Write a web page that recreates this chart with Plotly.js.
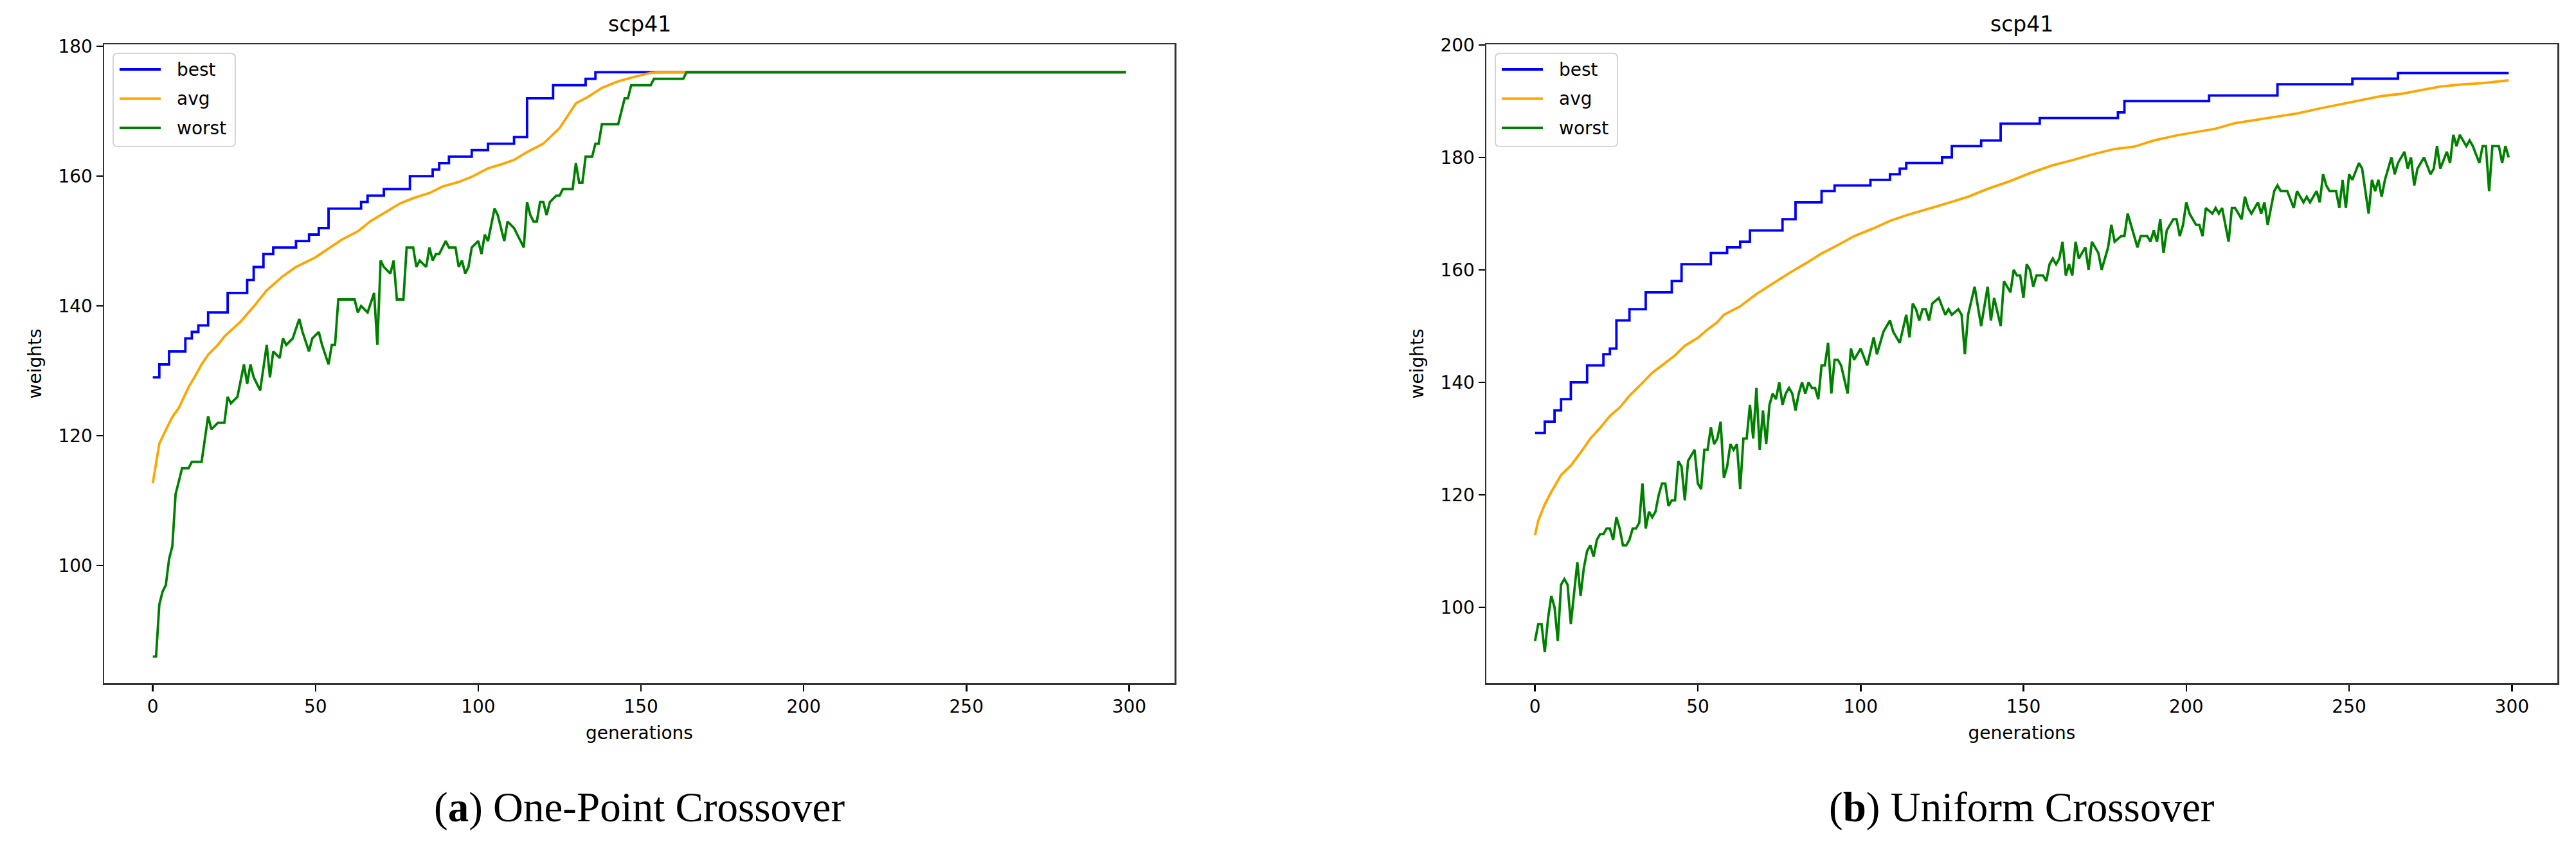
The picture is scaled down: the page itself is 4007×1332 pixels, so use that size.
<!DOCTYPE html>
<html>
<head>
<meta charset="utf-8">
<script src="https://cdn.plot.ly/plotly-3.0.1.min.js"></script>
<style>
html, body { margin: 0; padding: 0; background: #fff; }
#fig { width: 4007px; height: 1332px; }
</style>
</head>
<body>
<div id="fig"></div>
<script>
// scp41, fitness (weights) per generation

// (a) One-Point Crossover
const genBestA = [0,2,5,10,12,14,17,23,29,31,34,37,44,48,51,54,64,66,71,79,86,88,91,98,103,111,115,123,133,136,299];
const bestA    = [129,131,133,135,136,137,139,142,144,146,148,149,150,151,152,155,156,157,158,160,161,162,163,164,165,166,172,174,175,176,176];

const genAvgA = [0,1,2,4,6,8,11,13,15,17,
                 20,22,27,31,35,40,44,50,54,58,
                 63,67,72,76,80,85,89,94,98,103,
                 107,111,115,120,125,128,130,134,138,143,
                 148,153,156,299];
const avgA    = [112.7,116.0,118.8,120.9,122.9,124.3,127.5,129.2,131.0,132.5,
                 134.0,135.3,137.6,139.9,142.4,144.6,146.0,147.5,148.8,150.2,
                 151.5,153.1,154.6,155.8,156.6,157.4,158.4,159.1,159.9,161.2,
                 161.8,162.5,163.7,165.0,167.4,169.6,171.2,172.3,173.6,174.6,
                 175.3,175.9,176.0,176.0];

const genWorstA = [0,1,2,3,4,5,6,7,8,9,
                   11,12,15,17,18,20,22,23,24,26,
                   28,29,30,31,33,35,36,37,39,40,
                   41,43,45,46,48,49,51,52,54,55,
                   56,57,62,63,64,66,68,69,70,71,
                   73,74,75,77,78,80,81,82,84,85,
                   86,87,88,90,91,93,94,95,96,97,
                   98,100,101,102,103,105,106,108,109,111,
                   112,114,115,116,117,118,119,120,121,122,
                   124,125,126,129,130,131,132,133,135,136,
                   137,138,143,144,145,146,147,153,154,163,
                   164,299];
const worstA    = [86,86,94,96,97,101,103,111,113,115,
                   115,116,116,123,121,122,122,126,125,126,
                   131,128,131,129,127,134,129,133,132,135,
                   134,135,138,136,133,135,136,134,131,134,
                   134,141,141,139,140,139,142,134,147,146,
                   145,147,141,141,149,149,146,147,146,149,
                   147,148,148,150,149,149,146,147,145,146,
                   149,150,148,151,150,155,154,150,153,152,
                   151,149,156,154,153,153,156,156,154,156,
                   157,157,158,158,162,159,159,163,163,165,
                   165,168,168,170,172,172,174,174,175,175,
                   176,176];

// (b) Uniform Crossover
const genBestB = [0,3,6,8,11,16,21,23,25,29,
                  34,42,45,54,59,63,66,76,80,88,
                  92,103,109,112,114,125,128,137,143,155,
                  179,181,207,228,251,265,299];
const bestB    = [131,133,135,137,140,143,145,146,151,153,
                  156,158,161,163,164,165,167,169,172,174,
                  175,176,177,178,179,180,182,183,186,187,
                  188,190,191,193,194,195,195];

const genAvgB = [0,1,3,5,8,11,14,17,20,23,
                 26,29,33,36,39,43,46,50,53,56,
                 58,63,68,73,78,83,88,93,98,104,
                 109,114,119,124,128,133,139,146,152,159,
                 165,171,178,184,190,197,203,209,215,222,
                 228,234,241,247,253,260,266,272,278,285,
                 291,299];
const avgB    = [112.8,115.4,118.3,120.5,123.5,125.2,127.5,130.0,131.9,134.0,
                 135.5,137.6,139.9,141.7,143.0,144.8,146.5,147.9,149.4,150.7,
                 152.0,153.5,155.7,157.6,159.4,161.1,162.9,164.4,166.0,167.4,
                 168.7,169.7,170.6,171.4,172.1,173.0,174.4,175.8,177.2,178.6,
                 179.5,180.5,181.5,181.9,183.0,183.9,184.5,185.1,186.1,186.7,
                 187.3,187.8,188.7,189.4,190.0,190.9,191.3,192.0,192.6,193.0,
                 193.2,193.7];

const genWorstB = [0,1,2,3,4,5,6,7,8,9,
                   10,11,13,14,15,16,17,18,19,20,
                   21,22,23,24,25,26,27,28,29,30,
                   31,32,33,34,35,36,37,38,39,40,
                   41,42,43,44,45,46,47,48,49,50,
                   51,52,53,54,55,56,57,58,59,60,
                   61,62,63,64,65,66,67,68,69,70,
                   71,72,73,74,75,76,77,78,79,80,
                   81,82,83,84,85,86,87,88,89,90,
                   91,92,93,94,96,97,98,100,102,104,
                   105,107,109,110,112,114,115,116,117,118,
                   119,120,121,122,124,126,127,128,130,131,
                   132,133,135,137,139,140,141,143,144,146,
                   147,148,149,150,151,152,153,154,156,157,
                   158,159,160,161,162,163,164,165,166,167,
                   169,170,171,173,174,176,177,178,180,181,
                   182,184,185,186,188,189,190,191,192,193,
                   194,196,197,198,199,200,201,203,204,205,
                   206,208,209,210,211,213,214,215,217,218,
                   219,220,222,223,224,225,227,228,229,231,
                   233,234,236,237,238,240,241,242,243,244,
                   246,247,248,249,250,251,253,254,256,257,
                   258,259,260,261,263,264,265,267,268,269,
                   270,271,273,275,276,277,278,280,281,282,
                   283,284,286,287,288,290,291,292,293,294,
                   296,297,298,299];
const worstB    = [94,97,97,92,98,102,100,94,104,105,
                   104,97,108,102,107,110,111,109,112,113,
                   113,114,114,112,116,114,111,111,112,114,
                   114,115,122,114,117,116,117,120,122,122,
                   118,119,119,126,125,119,126,127,128,122,
                   121,128,128,132,129,130,133,123,125,129,
                   128,129,121,130,130,136,130,139,128,135,
                   129,136,138,137,140,136,138,139,138,135,
                   138,140,138,140,139,139,137,143,143,147,
                   138,144,144,143,138,146,144,146,143,148,
                   145,149,151,149,147,152,148,154,153,151,
                   153,153,151,154,155,152,153,152,153,152,
                   145,152,157,150,157,151,155,150,158,156,
                   160,159,159,155,161,160,157,159,159,158,
                   161,162,161,162,165,159,161,159,165,162,
                   164,160,165,163,160,164,168,165,166,166,
                   170,166,164,166,166,165,167,165,169,163,
                   167,169,169,166,168,172,170,168,168,166,
                   171,170,171,170,171,165,171,171,169,173,
                   171,170,172,170,172,168,174,175,174,174,
                   171,174,172,173,172,174,172,177,175,174,
                   174,171,176,171,177,176,179,178,170,176,
                   174,176,173,176,180,177,179,181,178,180,
                   175,178,180,177,178,182,178,181,179,184,
                   182,184,182,183,182,179,182,182,174,182,
                   182,179,182,180];

const xTicks = [0,50,100,150,200,250,300];
const yTicksA = [100,120,140,160,180];
const yTicksB = [100,120,140,160,180,200];
const seriesNames = ['best','avg','worst'];
const seriesColors = ['#0000ff','#ffa500','#008000'];

const W = 4007, H = 1332;
const tickFont = {family: 'DejaVu Sans, sans-serif', size: 28, color: '#000'};

function makeTrace(x, y, k, xa, ya, shape) {
    return {
        x: x, y: y,
        type: 'scatter', mode: 'lines',
        name: seriesNames[k],
        xaxis: xa, yaxis: ya,
        line: {color: seriesColors[k], width: 3.8, shape: shape}
    };
}

function xAxis(dom, anchor) {
    return {
        domain: dom, anchor: anchor,
        range: [-14.95, 313.95],
        tickmode: 'array', tickvals: xTicks,
        ticks: 'outside', ticklen: 10, tickwidth: 2.5, tickcolor: '#000',
        showline: true, linecolor: '#333', linewidth: 2.5, mirror: true,
        showgrid: false, zeroline: false,
        tickfont: tickFont,
        title: {text: 'generations', font: tickFont, standoff: 16}
    };
}

function yAxis(dom, anchor, rng, tv) {
    return {
        domain: dom, anchor: anchor,
        range: rng,
        tickmode: 'array', tickvals: tv,
        ticks: 'outside', ticklen: 10, tickwidth: 2.5, tickcolor: '#000',
        showline: true, linecolor: '#333', linewidth: 2.5, mirror: true,
        showgrid: false, zeroline: false,
        tickfont: tickFont,
        title: {text: 'weights', font: tickFont, standoff: 18}
    };
}

// plot areas, measured in pixels on the reference
const yDom = [(H - 1063) / H, (H - 69) / H];
const xDomA = [162 / W, 1827 / W];
const xDomB = [2312 / W, 3978 / W];
const midA = (xDomA[0] + xDomA[1]) / 2;
const midB = (xDomB[0] + xDomB[1]) / 2;

const traces = [
    makeTrace(genBestA, bestA, 0, 'x', 'y', 'hv'),
    makeTrace(genAvgA, avgA, 1, 'x', 'y', 'linear'),
    makeTrace(genWorstA, worstA, 2, 'x', 'y', 'linear'),
    makeTrace(genBestB, bestB, 0, 'x2', 'y2', 'hv'),
    makeTrace(genAvgB, avgB, 1, 'x2', 'y2', 'linear'),
    makeTrace(genWorstB, worstB, 2, 'x2', 'y2', 'linear')
];

// matplotlib-like legend box (plotly's own legend keys are too short)
function px(x) { return x / W; }
function py(y) { return 1 - y / H; }
function roundBox(x0, y0, x1, y1, r) {
    return 'M' + px(x0 + r) + ',' + py(y0) +
        ' L' + px(x1 - r) + ',' + py(y0) +
        ' Q' + px(x1) + ',' + py(y0) + ' ' + px(x1) + ',' + py(y0 + r) +
        ' L' + px(x1) + ',' + py(y1 - r) +
        ' Q' + px(x1) + ',' + py(y1) + ' ' + px(x1 - r) + ',' + py(y1) +
        ' L' + px(x0 + r) + ',' + py(y1) +
        ' Q' + px(x0) + ',' + py(y1) + ' ' + px(x0) + ',' + py(y1 - r) +
        ' L' + px(x0) + ',' + py(y0 + r) +
        ' Q' + px(x0) + ',' + py(y0) + ' ' + px(x0 + r) + ',' + py(y0) + ' Z';
}

const shapes = [];
const annotations = [];
[0, 2150].forEach(function (dx) {
    shapes.push({type: 'path', xref: 'paper', yref: 'paper', path: roundBox(176 + dx, 83, 366 + dx, 228, 7),
                 fillcolor: 'rgba(255,255,255,0.8)', line: {color: '#d4d4d4', width: 2}});
    seriesNames.forEach(function (name, k) {
        const yy = 108 + k * 45.5;
        shapes.push({type: 'line', xref: 'paper', yref: 'paper',
                     x0: px(186 + dx), x1: px(250 + dx), y0: py(yy), y1: py(yy),
                     line: {color: seriesColors[k], width: 4}});
        annotations.push({text: name, x: px(273 + dx), y: py(yy), xref: 'paper', yref: 'paper',
                          showarrow: false, xanchor: 'left', yanchor: 'middle', font: tickFont});
    });
});

const titleFont = {family: 'DejaVu Sans, sans-serif', size: 33, color: '#000'};
const capFont = {family: 'Liberation Serif, serif', size: 65, color: '#000'};
annotations.push(
    {text: 'scp41', x: midA, y: py(38), xref: 'paper', yref: 'paper', showarrow: false,
     xanchor: 'center', yanchor: 'middle', font: titleFont},
    {text: 'scp41', x: midB, y: py(38), xref: 'paper', yref: 'paper', showarrow: false,
     xanchor: 'center', yanchor: 'middle', font: titleFont},
    {text: '(<b>a</b>) One-Point Crossover', x: midA, y: py(1256), xref: 'paper', yref: 'paper', showarrow: false,
     xanchor: 'center', yanchor: 'middle', font: capFont},
    {text: '(<b>b</b>) Uniform Crossover', x: midB, y: py(1256), xref: 'paper', yref: 'paper', showarrow: false,
     xanchor: 'center', yanchor: 'middle', font: capFont}
);

const layout = {
    width: W, height: H,
    margin: {l: 0, r: 0, t: 0, b: 0},
    paper_bgcolor: '#fff', plot_bgcolor: '#fff',
    showlegend: false,
    xaxis: xAxis(xDomA, 'y'),
    yaxis: yAxis(yDom, 'x', [81.9, 180.3], yTicksA),
    xaxis2: xAxis(xDomB, 'y2'),
    yaxis2: yAxis(yDom, 'x2', [86.5, 200.1], yTicksB),
    shapes: shapes,
    annotations: annotations
};

Plotly.newPlot('fig', traces, layout, {staticPlot: true, displayModeBar: false});
</script>
</body>
</html>
